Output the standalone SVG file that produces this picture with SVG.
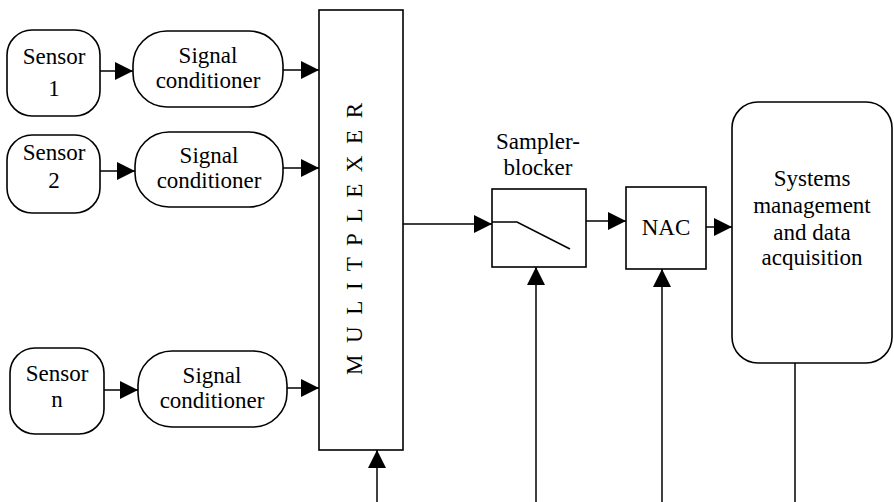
<svg xmlns="http://www.w3.org/2000/svg" width="894" height="502" viewBox="0 0 894 502">
<defs>
<style>
.box{fill:#fff;stroke:#000;stroke-width:1.6}
.ln{fill:none;stroke:#000;stroke-width:1.5}
.t{font-size:23px;fill:#000;text-anchor:middle}
</style>
<marker id="ah" markerUnits="userSpaceOnUse" markerWidth="18" markerHeight="18" viewBox="0 0 16 16" refX="16" refY="8" orient="auto">
<path d="M0,0 L16,8 L0,16 Z" fill="#000"/>
</marker>
</defs>
<rect width="894" height="502" fill="#fff"/>
<g id="connectors">
<line class="ln" x1="100" y1="71" x2="133" y2="71" marker-end="url(#ah)"/>
<line class="ln" x1="283" y1="70" x2="319" y2="70" marker-end="url(#ah)"/>
<line class="ln" x1="100" y1="171" x2="135" y2="171" marker-end="url(#ah)"/>
<line class="ln" x1="283" y1="168" x2="319" y2="168" marker-end="url(#ah)"/>
<line class="ln" x1="104" y1="390" x2="138" y2="390" marker-end="url(#ah)"/>
<line class="ln" x1="287" y1="388" x2="319" y2="388" marker-end="url(#ah)"/>
<line class="ln" x1="403" y1="224" x2="492" y2="224" marker-end="url(#ah)"/>
<line class="ln" x1="377" y1="502" x2="377" y2="450" marker-end="url(#ah)"/>
<line class="ln" x1="583" y1="221" x2="626" y2="221" marker-end="url(#ah)"/>
<line class="ln" x1="536" y1="502" x2="536" y2="267" marker-end="url(#ah)"/>
<line class="ln" x1="662" y1="502" x2="662" y2="269" marker-end="url(#ah)"/>
<line class="ln" x1="706" y1="227" x2="732" y2="227" marker-end="url(#ah)"/>
<line class="ln" x1="795" y1="363" x2="795" y2="502"/>
</g>
<g font-family="'Liberation Serif', 'Times New Roman', Tinos, serif">
<g id="sensor1"><rect class="box" x="7" y="30" width="93" height="86" rx="25"/><text class="t" x="54" y="64">Sensor</text><text class="t" x="54" y="96">1</text></g>
<g id="sensor2"><rect class="box" x="7" y="135" width="93" height="78" rx="25"/><text class="t" x="54" y="160">Sensor</text><text class="t" x="54" y="188">2</text></g>
<g id="sensorn"><rect class="box" x="10" y="348" width="94" height="86" rx="25"/><text class="t" x="57" y="381">Sensor</text><text class="t" x="57" y="407">n</text></g>
<g id="cond1"><rect class="box" x="133" y="31" width="150" height="76" rx="34"/><text class="t" x="208" y="63">Signal</text><text class="t" x="208" y="88">conditioner</text></g>
<g id="cond2"><rect class="box" x="135" y="132" width="148" height="75" rx="34"/><text class="t" x="209" y="163">Signal</text><text class="t" x="209" y="188">conditioner</text></g>
<g id="condn"><rect class="box" x="138" y="351" width="149" height="76" rx="34"/><text class="t" x="212" y="383">Signal</text><text class="t" x="212" y="408">conditioner</text></g>
<g id="multiplexer"><rect class="box" x="319" y="10" width="84" height="440"/><text class="t" transform="translate(362,239) rotate(-90)" textLength="272" lengthAdjust="spacing">M U L I T P L E X E R</text></g>
<g id="sampler"><text class="t" x="538" y="149">Sampler-</text><text class="t" x="538" y="175">blocker</text><rect class="box" x="492" y="189" width="94" height="78"/><polyline class="ln" points="492,222 517,222 570,249"/></g>
<g id="nac"><rect class="box" x="626" y="187" width="80" height="82"/><text class="t" x="666" y="235">NAC</text></g>
<g id="smda"><rect class="box" x="732" y="102" width="160" height="261" rx="26"/><text class="t" x="812" y="186">Systems</text><text class="t" x="812" y="213">management</text><text class="t" x="812" y="240">and data</text><text class="t" x="812" y="265">acquisition</text></g>
</g>
</svg>
